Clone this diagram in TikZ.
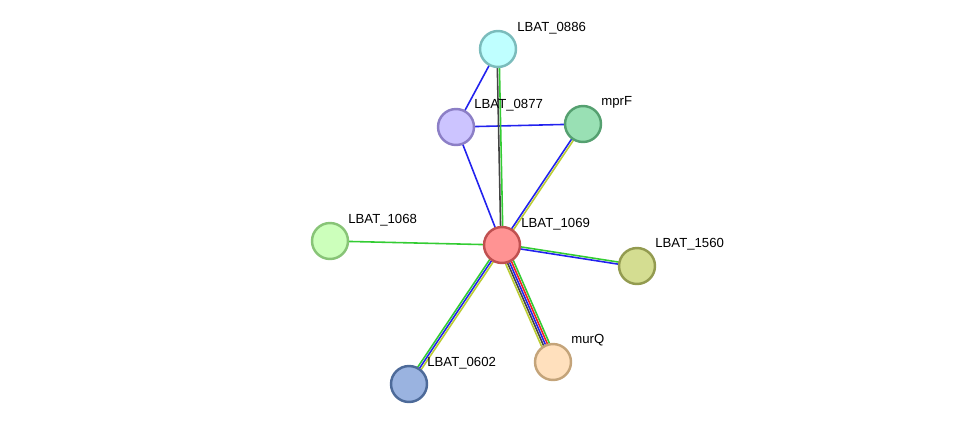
\documentclass[tikz,border=0pt]{standalone}
\usepackage{fontspec}
\setmainfont{Liberation Sans}
\usetikzlibrary{calc,backgrounds}
\definecolor{egreen}{HTML}{33CC33}
\definecolor{eblue}{HTML}{2222EE}
\definecolor{eyellow}{HTML}{BBCC33}
\definecolor{ered}{HTML}{EE2222}
\definecolor{eblack}{HTML}{444444}
\definecolor{dA}{HTML}{7BBCBC}\definecolor{fA}{HTML}{BFFFFF}
\definecolor{dB}{HTML}{8C7FC6}\definecolor{fB}{HTML}{CCC4FF}
\definecolor{dC}{HTML}{55A070}\definecolor{fC}{HTML}{99E0B4}
\definecolor{dD}{HTML}{C05050}\definecolor{fD}{HTML}{FF9393}
\definecolor{dE}{HTML}{88C477}\definecolor{fE}{HTML}{CCFFBB}
\definecolor{dF}{HTML}{939B50}\definecolor{fF}{HTML}{D4DD91}
\definecolor{dG}{HTML}{C4A47A}\definecolor{fG}{HTML}{FFE0BD}
\definecolor{dH}{HTML}{4D6A99}\definecolor{fH}{HTML}{9AB3E0}
\newcommand{\edge}[4]{\draw[#4, line width=0.9pt] ($(#1)!#3!90:(#2)$) -- ($(#2)!#3!-90:(#1)$);}
\tikzset{
  prot/.style 2 args={circle, draw=#1, fill=#2, line width=1.4pt, minimum size=0.72cm, inner sep=0pt},
  lbl/.style={anchor=west, inner sep=0pt, font=\fontsize{7.5}{9}\selectfont}
}
\begin{document}
\begin{tikzpicture}[x=0.02cm, y=-0.02cm]
	\useasboundingbox (0,0) rectangle (976,430);
	%proteins
	\node[prot={dA}{fA}] (p0886) at (498,49) {};
	\node[prot={dB}{fB}] (p0877) at (456,127) {};
	\node[prot={dC}{fC}] (mprF) at (583,124) {};
	\node[prot={dD}{fD}] (p1069) at (502,245) {};
	\node[prot={dE}{fE}] (p1068) at (330,241) {};
	\node[prot={dF}{fF}] (p1560) at (637,266) {};
	\node[prot={dG}{fG}] (murQ) at (553,362) {};
	\node[prot={dH}{fH}] (p0602) at (409,384) {};
	%labels
	\node[lbl] at (517,28) {LBAT\_0886};
	\node[lbl] at (474,105) {LBAT\_0877};
	\node[lbl] at (601,102) {mprF};
	\node[lbl] at (521,224) {LBAT\_1069};
	\node[lbl] at (348,220) {LBAT\_1068};
	\node[lbl] at (655,244) {LBAT\_1560};
	\node[lbl] at (571,340) {murQ};
	\node[lbl] at (427,363) {LBAT\_0602};
	%edges
	\begin{scope}[on background layer]
		\edge{p0886}{p0877}{0pt}{eblue}
		\edge{p0877}{mprF}{0pt}{eblue}
		\edge{p0877}{p1069}{0pt}{eblue}
		\edge{p1068}{p1069}{0pt}{egreen}
		\edge{p0886}{p1069}{-0.6pt}{eblack}
		\edge{p0886}{p1069}{0.6pt}{egreen}
		\edge{mprF}{p1069}{-0.6pt}{eblue}
		\edge{mprF}{p1069}{0.6pt}{eyellow}
		\edge{p1069}{p1560}{0.6pt}{egreen}
		\edge{p1069}{p1560}{-0.6pt}{eblue}
		\edge{p1069}{p0602}{-1.2pt}{egreen}
		\edge{p1069}{p0602}{0pt}{eblue}
		\edge{p1069}{p0602}{1.2pt}{eyellow}
		\edge{p1069}{murQ}{2.4pt}{egreen}
		\edge{p1069}{murQ}{1.2pt}{ered}
		\edge{p1069}{murQ}{0pt}{eblue}
		\edge{p1069}{murQ}{-1.2pt}{eblack}
		\edge{p1069}{murQ}{-2.4pt}{eyellow}
	\end{scope}
\end{tikzpicture}
\end{document}
